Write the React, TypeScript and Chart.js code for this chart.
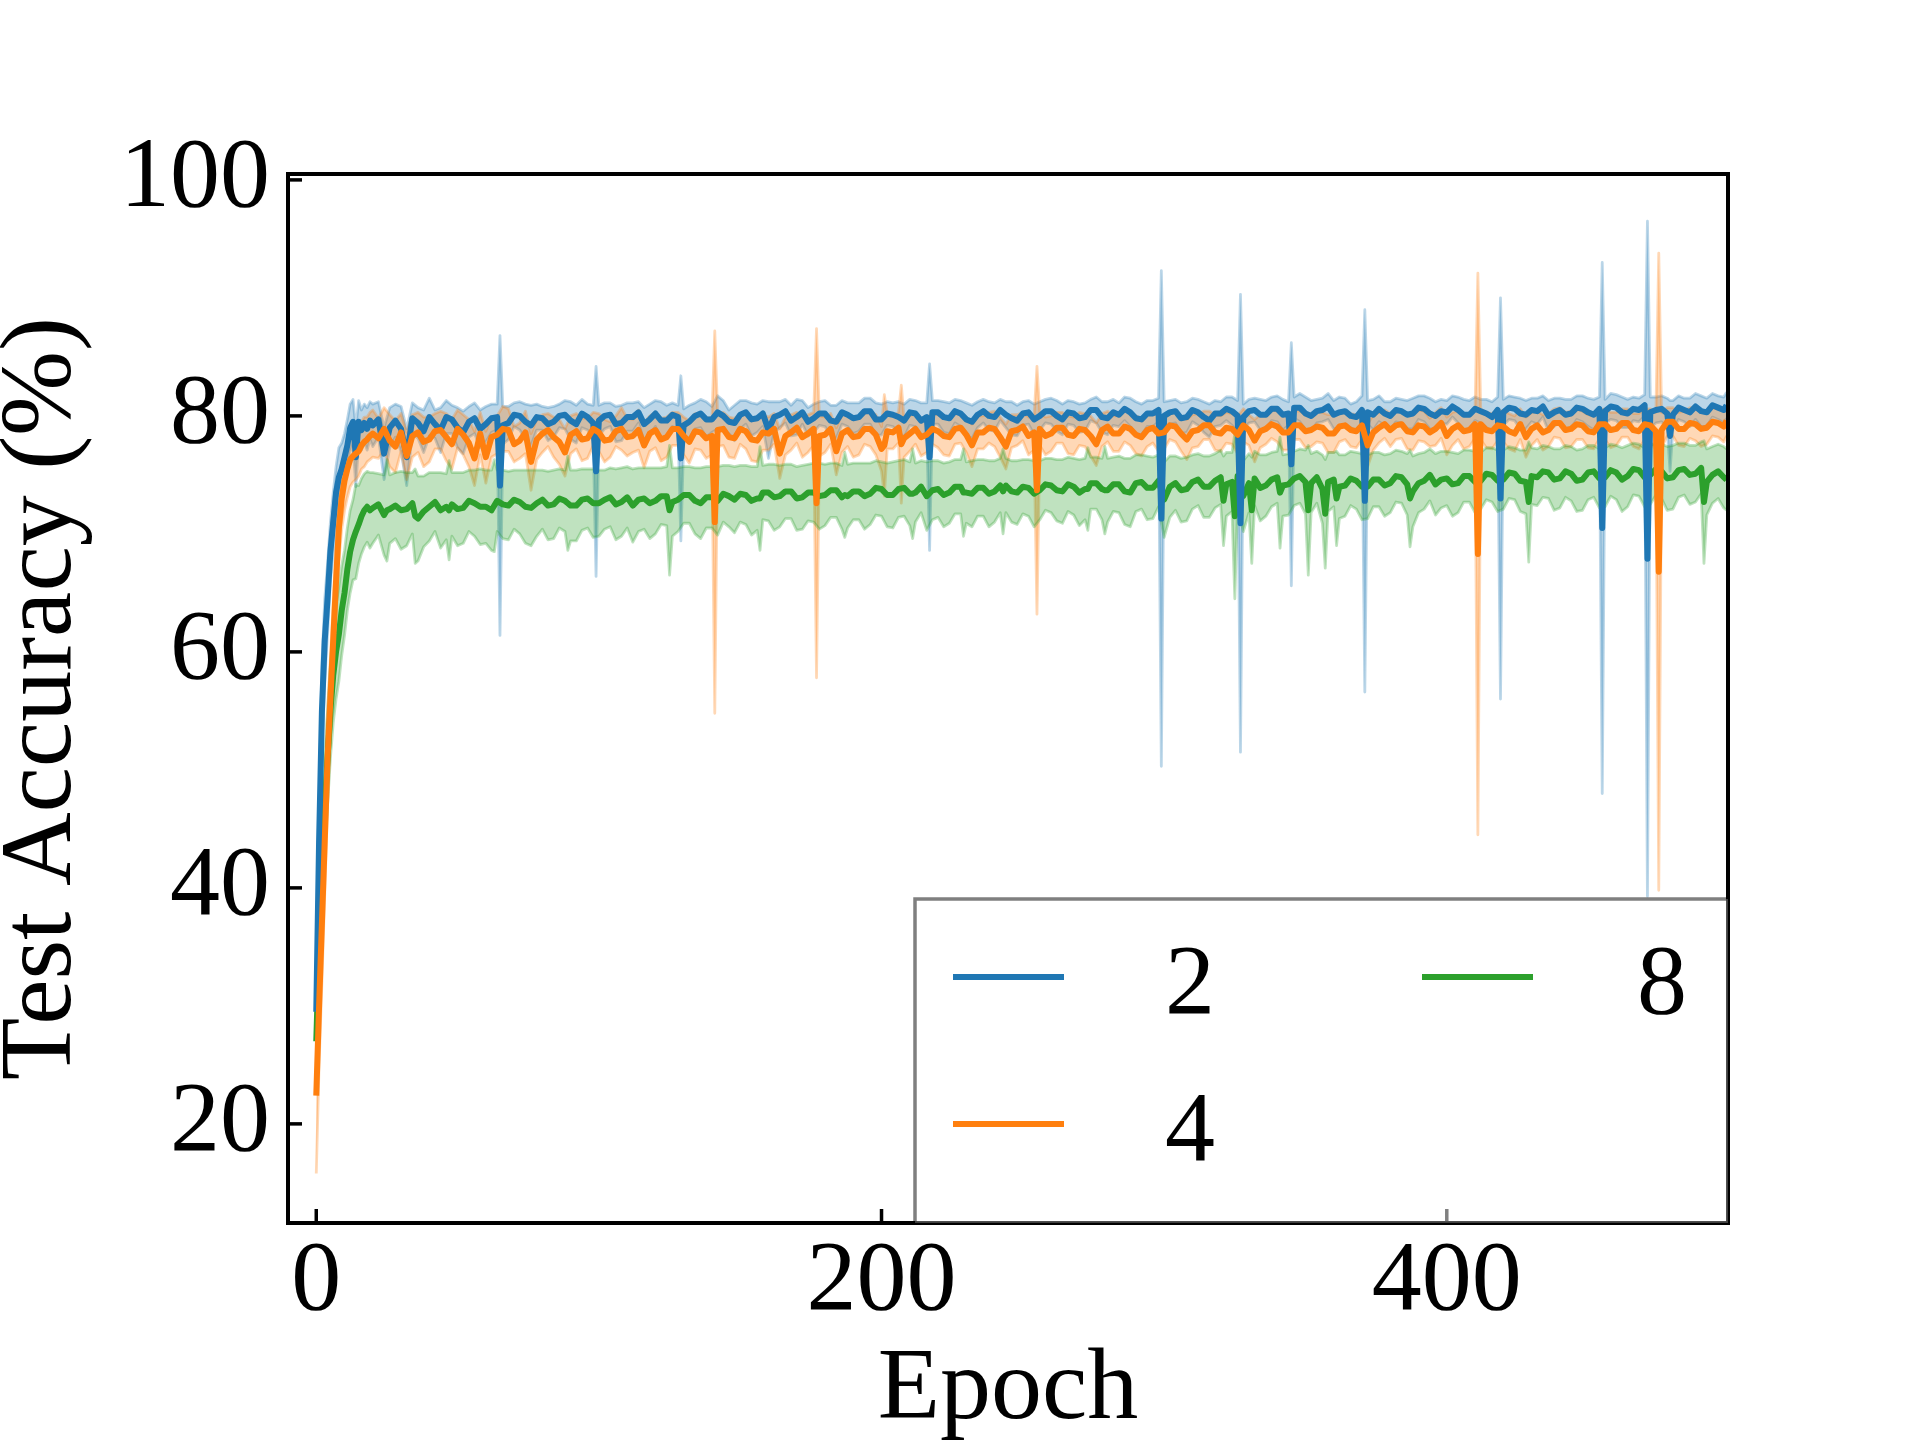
import React, { useEffect, useRef } from 'react';
import Chart from 'chart.js/auto';

const FONT = "'Liberation Serif', 'Times New Roman', serif";

// epochs 0..19 every epoch, then every 2nd epoch up to 498, plus the last one
const epochs = [
  0, 1, 2, 3, 4, 5, 6, 7, 8, 9, 10, 11, 12, 13, 14, 15, 16, 17, 18, 19,
  20, 22, 24, 26, 28, 30, 32, 34, 36, 38, 40, 42, 44, 46, 48, 50, 52, 54, 56, 58,
  60, 62, 64, 66, 68, 70, 72, 74, 76, 78, 80, 82, 84, 86, 88, 90, 92, 94, 96, 98,
  100, 102, 104, 106, 108, 110, 112, 114, 116, 118, 120, 122, 124, 126, 128, 130, 132, 134, 136, 138,
  140, 142, 144, 146, 148, 150, 152, 154, 156, 158, 160, 162, 164, 166, 168, 170, 172, 174, 176, 178,
  180, 182, 184, 186, 188, 190, 192, 194, 196, 198, 200, 202, 204, 206, 208, 210, 212, 214, 216, 218,
  220, 222, 224, 226, 228, 230, 232, 234, 236, 238, 240, 242, 244, 246, 248, 250, 252, 254, 256, 258,
  260, 262, 264, 266, 268, 270, 272, 274, 276, 278, 280, 282, 284, 286, 288, 290, 292, 294, 296, 298,
  300, 302, 304, 306, 308, 310, 312, 314, 316, 318, 320, 322, 324, 326, 328, 330, 332, 334, 336, 338,
  340, 342, 344, 346, 348, 350, 352, 354, 356, 358, 360, 362, 364, 366, 368, 370, 372, 374, 376, 378,
  380, 382, 384, 386, 388, 390, 392, 394, 396, 398, 400, 402, 404, 406, 408, 410, 412, 414, 416, 418,
  420, 422, 424, 426, 428, 430, 432, 434, 436, 438, 440, 442, 444, 446, 448, 450, 452, 454, 456, 458,
  460, 462, 464, 466, 468, 470, 472, 474, 476, 478, 480, 482, 484, 486, 488, 490, 492, 494, 496, 498,
  499,
];

// ---- series "2" (blue)
const blueMean = [
  29.5, 44.0, 55.0, 61.0, 64.5, 68.5, 71.0, 73.5, 74.8, 75.5, 76.5, 77.5, 79.0, 79.5, 76.5, 79.5, 78.8, 79.4, 78.9, 79.6,
  79.2, 79.7, 76.8, 79.0, 79.6, 78.9, 76.5, 79.8, 79.4, 78.7, 79.9, 79.3, 78.8, 79.9, 79.7, 79.0, 78.6, 79.5, 79.8, 78.9,
  79.3, 79.8, 79.9, 79.2, 79.4, 80.1, 80.0, 79.5, 79.2, 79.9, 79.8, 79.3, 79.5, 80.0, 80.1, 79.6, 79.3, 80.2, 79.9, 79.4,
  79.6, 80.0, 80.1, 79.3, 79.4, 79.9, 79.9, 80.3, 79.3, 79.7, 80.2, 79.6, 79.6, 80.1, 79.9, 79.2, 79.5, 80.0, 80.2, 79.7,
  79.7, 80.3, 80.0, 79.5, 79.4, 80.1, 80.3, 79.7, 79.8, 80.2, 78.8, 79.9, 80.1, 80.4, 79.6, 79.9, 80.3, 79.5, 79.8, 80.2,
  80.2, 79.6, 79.5, 80.3, 80.1, 79.8, 79.9, 80.4, 80.4, 79.7, 79.7, 80.2, 80.1, 79.9, 79.6, 80.3, 80.2, 79.6, 79.9, 80.3,
  80.3, 79.9, 79.8, 80.4, 80.2, 79.7, 79.5, 80.1, 80.4, 80.0, 79.9, 80.5, 80.1, 79.8, 79.6, 80.2, 80.3, 79.7, 80.0, 80.4,
  80.4, 80.0, 79.7, 80.3, 80.2, 79.8, 79.9, 80.5, 80.5, 79.9, 79.8, 80.3, 80.1, 80.6, 80.3, 79.8, 79.7, 80.2, 80.2, 80.5,
  80.0, 80.3, 80.4, 79.8, 79.9, 80.5, 80.3, 79.9, 79.6, 80.2, 80.2, 80.6, 80.4, 80.0, 79.9, 80.4, 80.5, 80.1, 80.1, 80.6,
  80.6, 80.1, 80.2, 80.7, 80.7, 80.2, 80.0, 80.4, 80.5, 80.8, 80.1, 80.3, 80.4, 80.0, 79.9, 80.5, 80.3, 80.1, 80.6, 80.2,
  80.0, 80.5, 80.4, 80.1, 80.2, 80.7, 80.6, 80.2, 80.0, 80.4, 80.3, 80.8, 80.5, 80.1, 80.1, 80.6, 80.4, 80.2, 79.9, 80.5,
  80.3, 80.7, 80.6, 80.2, 80.1, 80.5, 80.4, 80.8, 80.0, 80.3, 80.5, 80.1, 80.2, 80.7, 80.6, 80.3, 80.1, 80.6, 80.4, 80.8,
  80.7, 80.3, 80.2, 80.6, 80.5, 80.9, 80.3, 80.5, 80.6, 80.2, 80.1, 80.7, 80.5, 80.3, 80.8, 80.4, 80.3, 80.9, 80.7, 80.5,
  80.9,
];
const blueStd = [
  1.0, 3.0, 4.0, 3.5, 3.0, 2.5, 2.5, 2.2, 2.5, 2.2, 2.0, 2.2, 2.0, 1.9, 2.5, 1.8, 1.7, 1.6, 1.8, 1.6,
  1.8, 1.5, 2.2, 1.7, 1.4, 1.9, 2.4, 1.3, 1.3, 1.8, 1.6, 1.2, 1.9, 1.4, 1.2, 1.7, 1.8, 1.3, 1.3, 1.6,
  1.5, 1.2, 1.1, 1.6, 1.4, 1.0, 1.2, 1.5, 1.7, 1.1, 1.0, 1.4, 1.3, 1.0, 1.2, 1.6, 1.6, 1.2, 1.1, 1.5,
  1.3, 1.1, 1.0, 1.5, 1.5, 1.2, 1.2, 0.9, 1.4, 1.3, 1.1, 1.6, 1.3, 1.0, 1.0, 1.4, 1.4, 1.1, 1.2, 1.5,
  1.1, 1.4, 1.3, 1.0, 1.5, 1.2, 1.0, 1.4, 1.2, 1.1, 2.4, 1.3, 1.1, 1.0, 1.3, 1.5, 1.0, 1.2, 1.2, 1.0,
  1.1, 1.3, 1.4, 1.0, 1.0, 1.3, 1.2, 1.1, 1.1, 1.4, 1.3, 1.0, 1.0, 1.3, 1.4, 1.1, 1.1, 1.5, 1.2, 1.0,
  1.0, 1.3, 1.3, 1.0, 1.1, 1.4, 1.4, 1.1, 1.0, 1.2, 1.2, 0.9, 1.1, 1.4, 1.3, 1.0, 1.0, 1.3, 1.2, 1.0,
  1.1, 1.3, 1.3, 1.0, 1.0, 1.2, 1.2, 0.9, 1.1, 1.3, 1.4, 1.1, 1.0, 1.0, 1.2, 1.4, 1.3, 1.1, 1.1, 1.0,
  1.2, 1.0, 1.0, 1.3, 1.3, 1.0, 1.1, 1.3, 1.4, 1.1, 1.0, 1.0, 1.2, 1.3, 1.1, 1.0, 1.0, 1.3, 1.2, 1.0,
  1.1, 1.3, 1.0, 0.9, 1.2, 1.4, 1.3, 1.0, 1.0, 1.1, 1.2, 1.3, 1.1, 1.0, 1.3, 1.2, 1.0, 1.3, 1.1, 1.0,
  1.2, 1.0, 1.0, 1.2, 1.3, 1.0, 1.1, 1.3, 1.2, 1.0, 1.0, 0.9, 1.1, 1.3, 1.2, 1.0, 1.0, 1.2, 1.3, 1.1,
  1.1, 1.0, 1.0, 1.3, 1.2, 1.0, 1.1, 0.9, 1.3, 1.2, 1.0, 1.3, 1.2, 1.0, 1.1, 1.2, 1.3, 1.0, 1.0, 1.1,
  1.1, 1.3, 1.2, 1.0, 1.0, 0.9, 1.3, 1.1, 1.1, 1.3, 1.2, 1.0, 1.0, 1.2, 1.1, 1.3, 1.2, 1.0, 1.0, 1.1,
  1.1,
];
const blueSpikeEpochs = [65, 99, 129, 217, 299, 327, 345, 371, 419, 455, 471, 479];
const blueSpikeMean = [74.1, 75.3, 76.4, 76.5, 71.3, 70.9, 75.9, 72.8, 73.0, 70.5, 67.9, 78.3];
const blueSpikeStd = [12.7, 8.9, 7.0, 7.9, 21.0, 19.4, 10.3, 16.2, 17.0, 22.5, 28.6, 3.0];

// ---- series "4" (orange)
const orangeMean = [
  22.4, 30.0, 37.0, 44.0, 51.0, 56.0, 61.0, 66.0, 70.5, 73.0, 74.5, 75.5, 76.3, 76.6, 76.8, 77.0, 77.5, 77.8, 78.0, 78.3,
  78.5, 78.1, 78.9, 77.9, 77.4, 78.6, 76.6, 78.3, 78.6, 77.8, 78.0, 78.7, 78.8, 78.2, 77.6, 78.9, 78.4, 77.7, 76.4, 78.5,
  76.5, 78.2, 78.4, 78.9, 78.8, 77.6, 77.9, 78.6, 76.1, 78.0, 78.5, 78.8, 78.2, 77.8, 76.9, 78.4, 78.7, 78.0, 78.1, 78.9,
  78.6, 77.9, 78.0, 78.7, 78.9, 78.2, 78.3, 78.8, 77.5, 78.5, 78.8, 78.0, 78.2, 78.9, 78.9, 78.3, 77.8, 78.7, 78.6, 78.1,
  78.3, 78.8, 78.9, 78.2, 78.1, 78.9, 78.7, 78.0, 77.9, 78.6, 78.5, 78.9, 76.8, 78.3, 78.6, 79.0, 78.2, 78.5, 78.9, 78.3,
  78.4, 78.9, 77.0, 78.5, 78.8, 78.2, 78.3, 78.9, 78.9, 78.4, 77.2, 78.7, 78.6, 79.0, 78.1, 78.5, 78.9, 78.2, 78.4, 78.9,
  78.7, 78.3, 78.2, 78.9, 79.0, 78.4, 77.5, 78.6, 78.6, 79.0, 78.9, 78.2, 77.4, 78.7, 78.8, 79.1, 78.3, 78.6, 78.9, 78.3,
  78.5, 79.0, 79.0, 78.4, 78.3, 78.9, 78.8, 78.3, 77.6, 78.8, 79.1, 78.5, 78.5, 79.1, 78.9, 78.4, 78.2, 78.8, 79.0, 78.5,
  78.6, 79.2, 79.1, 78.5, 78.0, 78.7, 78.8, 79.2, 79.2, 78.6, 78.5, 79.0, 78.9, 78.4, 79.2, 78.8, 77.9, 78.7, 78.9, 79.3,
  79.1, 78.6, 78.6, 79.2, 79.2, 78.7, 78.8, 79.1, 79.0, 78.5, 78.5, 79.1, 79.2, 78.8, 78.7, 79.2, 77.5, 78.6, 79.0, 79.3,
  78.8, 79.2, 79.3, 78.7, 78.6, 79.2, 79.1, 78.6, 78.9, 79.4, 78.3, 78.9, 79.2, 78.7, 78.8, 79.3, 79.3, 78.8, 78.7, 79.2,
  79.1, 78.7, 78.5, 79.3, 78.2, 78.9, 79.2, 78.6, 78.8, 79.4, 79.4, 78.8, 78.9, 79.3, 79.2, 78.7, 78.6, 79.3, 79.3, 78.8,
  78.9, 79.4, 79.4, 78.8, 78.7, 79.3, 79.2, 78.7, 78.8, 79.5, 79.5, 78.9, 78.9, 79.4, 79.3, 78.9, 79.0, 79.5, 79.4, 79.1,
  79.6,
];
const orangeStd = [
  6.6, 5.0, 5.0, 4.5, 4.0, 3.5, 3.2, 3.0, 2.8, 2.6, 2.5, 2.4, 2.3, 2.2, 2.2, 2.1, 2.0, 2.1, 1.9, 2.0,
  2.0, 1.7, 1.8, 2.2, 2.2, 1.6, 2.0, 1.8, 1.7, 2.1, 1.9, 1.5, 1.6, 2.0, 2.1, 1.6, 1.7, 2.0, 2.3, 1.8,
  2.2, 1.7, 1.6, 1.9, 1.8, 1.5, 1.5, 1.8, 2.4, 1.7, 1.6, 1.4, 1.7, 1.9, 2.0, 1.6, 1.5, 1.8, 1.7, 1.4,
  1.6, 1.8, 1.5, 1.3, 1.8, 1.6, 1.4, 1.7, 1.9, 1.5, 1.5, 1.8, 1.7, 1.4, 1.4, 1.6, 1.8, 1.5, 1.5, 1.7,
  1.6, 1.4, 1.4, 1.7, 1.7, 1.3, 1.5, 1.8, 1.8, 1.5, 1.4, 1.3, 2.1, 1.6, 1.5, 1.3, 1.7, 1.6, 1.4, 1.7,
  1.5, 1.3, 2.0, 1.6, 1.4, 1.7, 1.6, 1.3, 1.5, 1.7, 1.9, 1.5, 1.4, 1.3, 1.6, 1.5, 1.3, 1.6, 1.5, 1.3,
  1.4, 1.6, 1.6, 1.3, 1.3, 1.5, 1.8, 1.4, 1.4, 1.3, 1.5, 1.7, 1.9, 1.4, 1.3, 1.2, 1.6, 1.5, 1.4, 1.6,
  1.5, 1.3, 1.3, 1.6, 1.6, 1.4, 1.4, 1.7, 1.8, 1.4, 1.3, 1.5, 1.5, 1.3, 1.4, 1.6, 1.6, 1.4, 1.3, 1.5,
  1.4, 1.2, 1.3, 1.5, 1.7, 1.4, 1.4, 1.2, 1.2, 1.5, 1.5, 1.3, 1.3, 1.6, 1.4, 1.3, 1.8, 1.4, 1.3, 1.2,
  1.3, 1.5, 1.5, 1.2, 1.2, 1.4, 1.4, 1.3, 1.3, 1.6, 1.6, 1.3, 1.2, 1.4, 1.4, 1.2, 1.8, 1.5, 1.3, 1.2,
  1.4, 1.2, 1.2, 1.5, 1.5, 1.3, 1.3, 1.2, 1.4, 1.3, 1.6, 1.4, 1.2, 1.5, 1.4, 1.2, 1.3, 1.5, 1.5, 1.3,
  1.3, 1.5, 1.5, 1.3, 1.7, 1.4, 1.2, 1.5, 1.4, 1.2, 1.3, 1.5, 1.5, 1.3, 1.2, 1.4, 1.4, 1.2, 1.3, 1.5,
  1.4, 1.2, 1.2, 1.4, 1.5, 1.3, 1.4, 1.6, 1.5, 1.2, 1.2, 1.4, 1.5, 1.3, 1.4, 1.5, 1.4, 1.2, 1.2, 1.3,
  1.3,
];
const orangeSpikeEpochs = [141, 177, 201, 207, 255, 411, 475];
const orangeSpikeMean = [71.0, 72.6, 77.5, 77.6, 73.7, 68.3, 66.8];
const orangeSpikeStd = [16.2, 14.8, 4.3, 5.0, 10.5, 23.8, 27.0];

// ---- series "8" (green)
const greenMean = [
  27.0, 35.0, 42.0, 47.0, 51.0, 55.0, 58.0, 60.0, 61.5, 63.5, 65.0, 67.0, 68.5, 69.5, 70.2, 70.8, 71.5, 72.0, 72.3, 72.0,
  72.2, 72.5, 71.6, 72.1, 72.4, 72.0, 72.1, 72.6, 71.3, 71.9, 72.3, 72.7, 72.0, 72.3, 72.5, 72.1, 72.2, 72.8, 72.6, 72.3,
  72.3, 72.0, 72.8, 72.5, 72.4, 72.9, 72.7, 72.3, 72.2, 72.6, 72.9, 72.4, 72.5, 73.0, 72.8, 72.4, 72.4, 72.9, 73.0, 72.6,
  72.6, 72.9, 73.1, 72.5, 72.7, 73.1, 72.4, 72.9, 73.0, 72.6, 72.8, 73.2, 73.2, 72.7, 72.9, 73.3, 73.3, 72.8, 72.6, 73.1,
  73.1, 72.8, 73.4, 73.2, 72.9, 73.4, 73.3, 72.8, 73.0, 73.5, 73.5, 73.1, 73.2, 73.6, 73.6, 73.0, 73.1, 73.5, 73.5, 73.2,
  73.3, 73.7, 73.7, 73.1, 73.2, 73.6, 73.6, 73.2, 73.4, 73.9, 73.8, 73.3, 73.3, 73.8, 73.9, 73.4, 73.5, 74.0, 73.2, 73.7,
  73.8, 73.3, 73.5, 74.0, 74.0, 73.5, 73.4, 73.9, 73.9, 73.4, 73.6, 74.1, 74.1, 73.6, 73.5, 74.0, 73.9, 73.4, 73.7, 74.2,
  74.1, 73.7, 73.6, 74.2, 74.0, 73.5, 73.8, 74.3, 74.3, 73.8, 73.7, 74.2, 74.2, 73.6, 73.5, 74.3, 74.4, 73.9, 73.9, 74.5,
  72.9, 74.0, 74.3, 73.7, 73.8, 74.4, 74.6, 74.0, 74.0, 74.5, 74.8, 74.2, 74.4, 74.9, 73.2, 74.3, 74.7, 73.9, 74.1, 74.6,
  74.8, 74.1, 74.2, 74.7, 74.9, 74.4, 74.3, 74.8, 73.8, 74.4, 74.6, 74.0, 74.1, 74.7, 74.5, 74.0, 74.0, 74.6, 74.6, 74.1,
  74.3, 74.9, 74.8, 74.2, 73.6, 74.3, 74.5, 75.0, 74.2, 74.6, 74.7, 74.2, 74.3, 74.9, 74.9, 74.4, 74.5, 75.1, 75.0, 74.5,
  74.6, 75.2, 75.1, 74.5, 74.4, 74.9, 74.8, 75.3, 75.2, 74.6, 74.7, 75.3, 75.1, 74.5, 74.6, 75.2, 75.3, 74.7, 74.8, 75.4,
  75.2, 74.6, 74.9, 75.5, 75.4, 74.8, 75.0, 75.5, 75.3, 74.7, 74.8, 75.4, 75.5, 75.0, 75.1, 75.6, 74.4, 75.0, 75.3, 74.8,
  74.6,
];
const greenStd = [
  2.0, 3.0, 4.0, 4.0, 4.0, 4.0, 4.0, 4.0, 4.0, 3.8, 3.6, 3.5, 3.5, 3.4, 4.0, 3.3, 3.2, 3.1, 3.0, 3.2,
  3.0, 2.6, 3.4, 2.9, 2.8, 3.3, 3.1, 2.6, 3.6, 3.0, 2.9, 2.5, 3.2, 2.8, 2.7, 3.1, 3.0, 2.6, 2.8, 3.2,
  3.1, 3.4, 2.6, 2.9, 2.9, 2.5, 2.7, 3.1, 3.2, 2.8, 2.5, 2.9, 2.9, 2.5, 2.6, 3.0, 3.0, 2.6, 2.5, 2.9,
  2.8, 2.5, 2.5, 3.0, 2.9, 2.6, 3.1, 2.7, 2.6, 3.0, 2.8, 2.4, 2.5, 2.9, 2.7, 2.4, 2.4, 2.8, 3.0, 2.6,
  2.6, 2.9, 2.4, 2.6, 2.8, 2.4, 2.5, 2.9, 2.7, 2.3, 2.4, 2.8, 2.6, 2.3, 2.3, 2.7, 2.7, 2.4, 2.5, 2.8,
  2.6, 2.3, 2.3, 2.7, 2.7, 2.4, 2.4, 2.8, 2.6, 2.3, 2.3, 2.7, 2.8, 2.4, 2.4, 2.7, 2.5, 2.2, 2.9, 2.5,
  2.4, 2.7, 2.6, 2.3, 2.3, 2.6, 2.8, 2.4, 2.4, 2.8, 2.6, 2.3, 2.3, 2.6, 2.7, 2.3, 2.4, 2.8, 2.5, 2.2,
  2.3, 2.6, 2.7, 2.3, 2.4, 2.8, 2.6, 2.2, 2.2, 2.6, 2.7, 2.3, 2.4, 2.8, 2.9, 2.4, 2.3, 2.7, 2.6, 2.2,
  3.2, 2.6, 2.3, 2.7, 2.7, 2.3, 2.2, 2.6, 2.6, 2.3, 2.3, 2.7, 2.5, 2.2, 3.0, 2.5, 2.3, 2.8, 2.6, 2.3,
  2.2, 2.6, 2.6, 2.3, 2.3, 2.7, 2.5, 2.2, 2.9, 2.5, 2.3, 2.7, 2.6, 2.3, 2.4, 2.8, 2.7, 2.3, 2.3, 2.6,
  2.5, 2.2, 2.2, 2.6, 3.0, 2.5, 2.4, 2.2, 2.6, 2.4, 2.3, 2.7, 2.5, 2.2, 2.2, 2.6, 2.4, 2.2, 2.3, 2.6,
  2.5, 2.2, 2.2, 2.6, 2.7, 2.4, 2.4, 2.2, 2.2, 2.6, 2.5, 2.2, 2.3, 2.6, 2.6, 2.3, 2.2, 2.5, 2.5, 2.2,
  2.3, 2.7, 2.6, 2.2, 2.2, 2.5, 2.5, 2.2, 2.3, 2.7, 2.7, 2.3, 2.2, 2.5, 2.4, 2.2, 2.8, 2.4, 2.3, 2.6,
  2.6,
];
const greenSpikeEpochs = [25, 35, 47, 63, 89, 125, 157, 187, 211, 229, 243, 273, 279, 321, 325, 331, 341, 351, 357, 361, 387, 429, 491];
const greenSpikeMean = [72.0, 71.5, 72.0, 72.4, 72.6, 72.0, 73.0, 73.3, 73.4, 73.5, 73.6, 73.8, 73.7, 72.8, 71.5, 72.0, 73.5, 72.0, 71.7, 73.0, 73.0, 72.7, 72.7];
const greenSpikeStd = [4.3, 4.0, 4.2, 3.9, 4.0, 5.5, 4.4, 3.6, 3.8, 3.7, 3.6, 3.5, 3.7, 3.8, 7.0, 4.5, 4.7, 5.5, 4.6, 4.0, 4.1, 5.1, 5.2];

const legendLabels = ['2', '4', '8'];
const colors = ['31,119,180', '255,127,14', '44,160,44'];

const xTicks = [0, 200, 400];
const yTicks = [20, 40, 60, 80, 100];

function buildSeries(mean: number[], std: number[], sE: number[], sM: number[], sS: number[]) {
  const rows: number[][] = epochs.map((e, i) => [e, mean[i], std[i]]);
  sE.forEach((e, i) => rows.push([e, sM[i], sS[i]]));
  rows.sort((a, b) => a[0] - b[0]);
  return {
    mean: rows.map(r => ({ x: r[0], y: r[1] })),
    upper: rows.map(r => ({ x: r[0], y: r[1] + r[2] })),
    lower: rows.map(r => ({ x: r[0], y: r[1] - r[2] })),
  };
}

const framePlugin = {
  id: 'frameAndLegend',
  afterDraw(chart: any) {
    const { ctx, chartArea: a, scales } = chart;
    ctx.save();
    // inward ticks
    ctx.strokeStyle = '#000';
    ctx.lineWidth = 3.5;
    yTicks.forEach(v => {
      const p = scales.y.getPixelForValue(v);
      ctx.beginPath();
      ctx.moveTo(a.left, p);
      ctx.lineTo(a.left + 14, p);
      ctx.stroke();
    });
    xTicks.forEach(v => {
      const p = scales.x.getPixelForValue(v);
      ctx.beginPath();
      ctx.moveTo(p, a.bottom);
      ctx.lineTo(p, a.bottom - 14);
      ctx.stroke();
    });
    // axes frame
    ctx.lineWidth = 4;
    ctx.strokeRect(a.left, a.top, a.right - a.left, a.bottom - a.top);

    // legend, lower right, two columns
    const bw = 813, bh = 324;
    const bx = a.right - bw, by = a.bottom - bh;
    ctx.fillStyle = 'rgba(255,255,255,0.5)';
    ctx.fillRect(bx, by, bw, bh);
    ctx.strokeStyle = 'rgba(0,0,0,0.5)';
    ctx.lineWidth = 3.5;
    ctx.strokeRect(bx, by, bw, bh);
    ctx.font = `100px ${FONT}`;
    ctx.textBaseline = 'alphabetic';
    ctx.textAlign = 'left';
    legendLabels.forEach((label, i) => {
      const col = i < 2 ? 0 : 1;
      const row = i < 2 ? i : 0;
      const ly = by + 78 + row * 147;
      const lx = bx + 38 + col * 469;
      ctx.strokeStyle = `rgb(${colors[i]})`;
      ctx.lineWidth = 6;
      ctx.beginPath();
      ctx.moveTo(lx, ly);
      ctx.lineTo(lx + 111, ly);
      ctx.stroke();
      ctx.fillStyle = '#000';
      ctx.fillText(label, bx + 250 + col * 472, ly + 36);
    });
    ctx.restore();
  },
};

export default function App() {
  const canvasRef = useRef<HTMLCanvasElement | null>(null);

  useEffect(() => {
    const series = [
      buildSeries(blueMean, blueStd, blueSpikeEpochs, blueSpikeMean, blueSpikeStd),
      buildSeries(orangeMean, orangeStd, orangeSpikeEpochs, orangeSpikeMean, orangeSpikeStd),
      buildSeries(greenMean, greenStd, greenSpikeEpochs, greenSpikeMean, greenSpikeStd),
    ];
    const bandOrder = [5, 4, 3];
    const meanOrder = [1, 0, 2];

    const datasets: any[] = [];
    series.forEach((s, i) => {
      datasets.push({
        label: legendLabels[i] + ' upper',
        data: s.upper,
        borderColor: `rgba(${colors[i]},0.3)`,
        borderWidth: 2.8,
        pointRadius: 0,
        tension: 0,
        borderJoinStyle: 'round',
        fill: false,
        order: bandOrder[i],
      });
      datasets.push({
        label: legendLabels[i] + ' lower',
        data: s.lower,
        borderColor: `rgba(${colors[i]},0.3)`,
        backgroundColor: `rgba(${colors[i]},0.3)`,
        borderWidth: 2.8,
        pointRadius: 0,
        tension: 0,
        borderJoinStyle: 'round',
        fill: '-1',
        order: bandOrder[i],
      });
    });
    series.forEach((s, i) => {
      datasets.push({
        label: legendLabels[i],
        data: s.mean,
        borderColor: `rgb(${colors[i]})`,
        borderWidth: 6,
        pointRadius: 0,
        tension: 0,
        borderJoinStyle: 'round',
        fill: false,
        order: meanOrder[i],
      });
    });

    if (!canvasRef.current) return;
    const chart = new Chart(canvasRef.current, {
      type: 'line',
      data: { datasets },
      options: {
        responsive: false,
        animation: false,
        events: [],
        layout: { padding: { top: 174, right: 192, bottom: 0, left: 0 } },
        plugins: {
          legend: { display: false },
          tooltip: { enabled: false },
        },
        scales: {
          x: {
            type: 'linear',
            min: -10,
            max: 499.5,
            afterFit: (scale: any) => { scale.height = 217; },
            afterBuildTicks: (scale: any) => { scale.ticks = xTicks.map(v => ({ value: v })); },
            grid: { display: false },
            border: { display: false },
            ticks: {
              autoSkip: false,
              maxRotation: 0,
              padding: 2,
              color: '#000',
              font: { family: FONT, size: 100, lineHeight: 1 },
            },
            title: {
              display: true,
              text: 'Epoch',
              color: '#000',
              padding: 0,
              font: { family: FONT, size: 102, lineHeight: 0.95 },
            },
          },
          y: {
            type: 'linear',
            min: 11.6,
            max: 100.5,
            afterFit: (scale: any) => { scale.width = 288; },
            afterBuildTicks: (scale: any) => { scale.ticks = yTicks.map(v => ({ value: v })); },
            grid: { display: false },
            border: { display: false },
            ticks: {
              autoSkip: false,
              padding: 10,
              color: '#000',
              font: { family: FONT, size: 100, lineHeight: 1 },
            },
            title: {
              display: true,
              text: 'Test Accuracy (%)',
              color: '#000',
              padding: 0,
              font: { family: FONT, size: 102, lineHeight: 0.85 },
            },
          },
        },
      },
      plugins: [framePlugin],
    });
    return () => chart.destroy();
  }, []);

  return (
    <div style={{ position: 'absolute', left: 0, top: 0, width: 1920, height: 1440, background: '#fff' }}>
      <canvas ref={canvasRef} width={1920} height={1440} style={{ width: 1920, height: 1440 }} />
    </div>
  );
}
